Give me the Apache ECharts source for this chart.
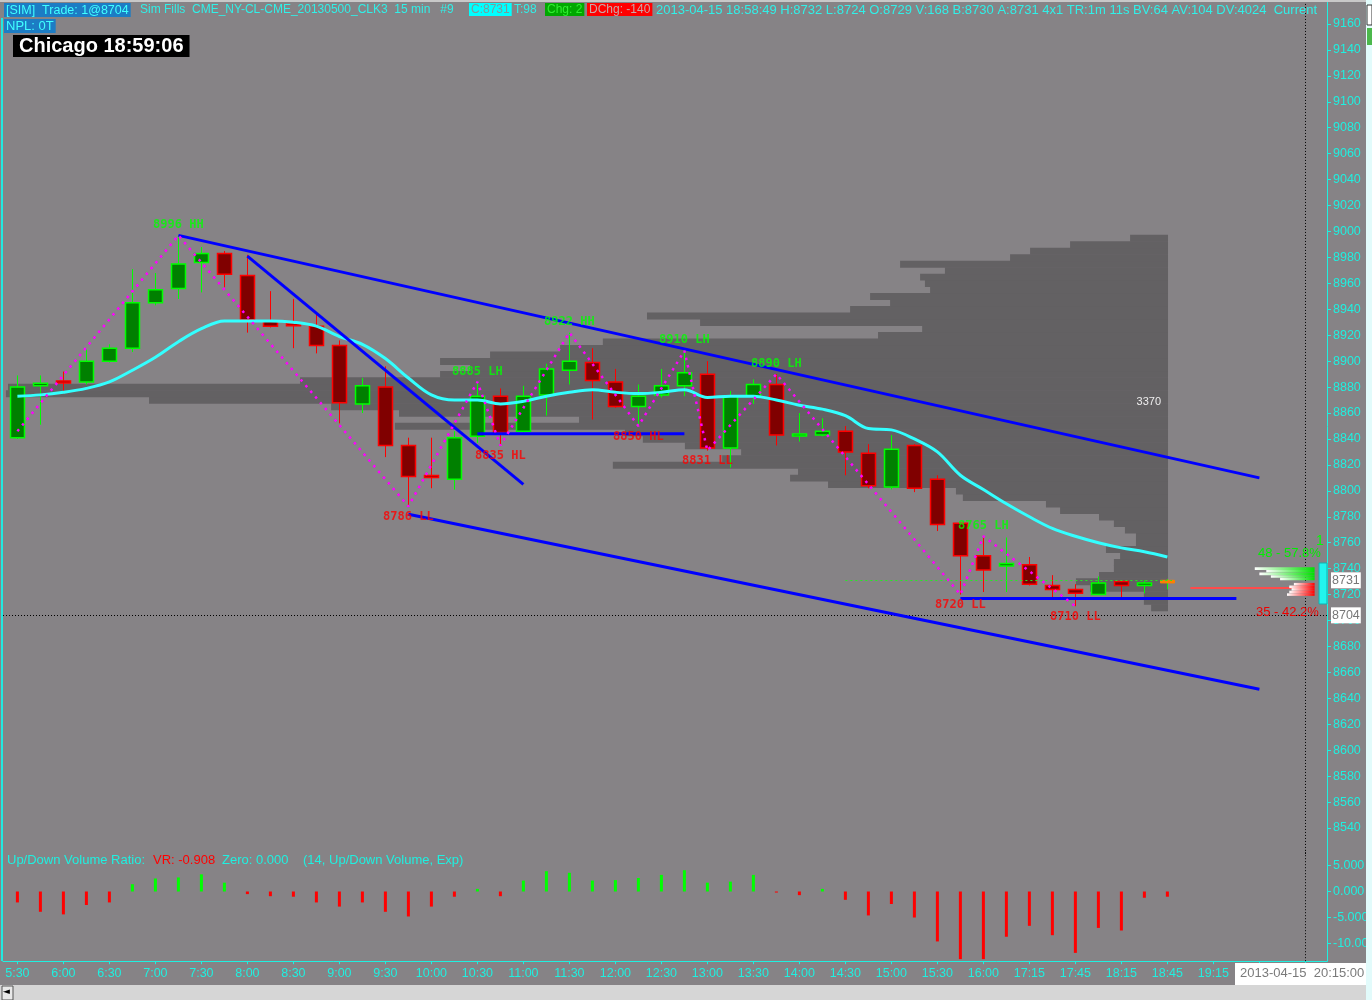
<!DOCTYPE html>
<html>
<head>
  <meta charset="UTF-8">
  <title>CL 15 min</title>
  <script src="https://cdn.jsdelivr.net/npm/echarts@6.0.0/dist/echarts.min.js"></script>
  <style>
    html, body { margin: 0; padding: 0; background: #868386; overflow: hidden; }
    #main { width: 1372px; height: 1000px; }
  </style>
</head>
<body>
<div id="main"></div>
<script type="text/javascript">
// bar times, one per 15 min slot (16:15-17:00 is the break)
var timeLabels = ['5:30','5:45','6:00','6:15','6:30','6:45','7:00','7:15','7:30','7:45','8:00','8:15','8:30','8:45',
  '9:00','9:15','9:30','9:45','10:00','10:15','10:30','10:45','11:00','11:15','11:30','11:45','12:00','12:15',
  '12:30','12:45','13:00','13:15','13:30','13:45','14:00','14:15','14:30','14:45','15:00','15:15','15:30','15:45',
  '16:00','17:00','17:15','17:30','17:45','18:00','18:15','18:30','18:45','19:00','19:15','19:30','19:45','20:00',
  '20:15','20:30'];

// [open, close, low, high]
var candles = [
  [8841,8880,8840,8889],[8881,8883,8851,8889],[8884,8883,8877,8892],[8884,8900,8882,8909],[8900,8910,8899,8913],
  [8910,8945,8907,8971],[8945,8955,8943,8968],[8956,8975,8948,8997],[8976,8983,8953,8988],[8983,8967,8957,8985],
  [8966,8932,8922,8982],[8931,8927,8926,8954],[8928,8927,8910,8948],[8927,8912,8906,8937],[8912,8868,8852,8916],
  [8867,8881,8860,8887],[8880,8835,8826,8896],[8835,8811,8788,8841],[8811,8810,8802,8841],[8809,8841,8801,8846],
  [8842,8873,8837,8884],[8873,8845,8835,8879],[8846,8873,8845,8881],[8874,8894,8858,8898],[8893,8900,8882,8922],
  [8899,8885,8855,8910],[8884,8865,8864,8894],[8865,8873,8850,8882],[8874,8881,8872,8894],[8881,8891,8873,8908],
  [8890,8833,8831,8900],[8833,8873,8818,8877],[8873,8882,8867,8886],[8882,8843,8835,8890],[8842,8843,8838,8860],
  [8843,8846,8842,8856],[8846,8830,8812,8850],[8829,8804,8802,8836],[8803,8832,8801,8843],[8835,8802,8799,8836],
  [8809,8774,8769,8812],[8775,8750,8720,8775],[8750,8739,8722,8765],[8742,8744,8722,8764],[8743,8728,8727,8749],
  [8727,8724,8718,8735],[8724,8721,8711,8728],[8720,8729,8720,8734],[8730,8727,8717,8730],[8727,8729,8721,8731],
  [8729,8731,8724,8732]
];

var emaVals = [8873,8874,8876,8879,8884,8893,8903,8915,8925,8931,8931,8931,8930,8927,8919,8913,8902,8887,8874,8870,
  8870,8867,8869,8873,8876,8878,8876,8875,8876,8878,8872,8873,8873,8870,8866,8863,8858,8848,8847,8840,
  8830,8812,8801,8790,8780,8771,8765,8760,8756,8753,8749];

// Up/Down volume ratio
var udvRatio = [-2.1,-3.9,-4.4,-2.6,-2.1, 1.4,2.5,2.7,3.3,1.7, -0.5,-0.9,-1.0,-2.1,-2.9,
  -2.1,-3.9,-4.8,-2.9,-1.0, 0.5,-0.9,2.1,3.9,3.6, 2.1,2.2,2.6,3.2,4.1,
  1.7,1.9,3.2,-0.2,-0.7, 0.5,-1.6,-4.6,-2.4,-5.0, -9.6,-13.0,-13.0,-8.7,-6.6,
  -8.4,-11.8,-7.0,-7.5,-1.2, -1.0];

// swing points (zigzag)
var swingIdx = [0, 7, 17, 20, 21, 24, 27, 29, 30, 33, 41, 42, 46];
var swingPrice = [8846, 8997, 8788, 8884, 8835, 8922, 8850, 8908, 8831, 8890, 8720, 8765, 8711];
var swingText = ['', '8996 HH', '8786 LL', '8885 LH', '8835 HL', '8922 HH', '8850 HL', '8910 LH', '8831 LL',
  '8890 LH', '8720 LL', '8765 LH', '8710 LL'];

// drawn trend lines [[bar, price], [bar, price]]
var trendLines = [
  [[7, 8997], [54, 8810]],
  [[17, 8782], [54, 8647]],
  [[10, 8981], [22, 8805]],
  [[20, 8844], [29, 8844]],
  [[41, 8717], [53, 8717]]
];

// volume profile, 5 tick rows
var profilePrice = [8710,8715,8720,8725,8730,8735,8740,8745,8750,8755,8760,8765,8770,8775,8780,8785,8790,8795,
  8800,8805,8810,8815,8820,8825,8830,8835,8840,8845,8850,8855,8860,8865,8870,8875,8880,8885,8890,8895,
  8900,8905,8910,8915,8920,8925,8930,8935,8940,8945,8950,8955,8960,8965,8970,8975,8980,8985,8990,8995];
var profileVol = [49,70,70,226,267,200,157,157,139,180,93,93,125,157,200,313,354,595,
  615,986,1096,1073,1610,1293,1238,1401,1523,1575,2242,1708,2230,2427,2955,3370,3364,2517,2111,2024,
  2111,1966,1763,1639,841,713,1357,1511,922,806,864,690,705,719,647,777,458,400,284,110];

// depth of market
var askPrice = [8740, 8738, 8736, 8734, 8732];
var askSize = [26, 21, 24, 19, 15];
var bidPrice = [8728, 8726, 8724, 8722, 8720];
var bidSize = [9, 11, 10, 11, 12];

var priceTicks = [8540,8560,8580,8600,8620,8640,8660,8680,8700,8720,8740,8760,8780,8800,8820,8840,8860,8880,
  8900,8920,8940,8960,8980,9000,9020,9040,9060,9080,9100,9120,9140,9160];
var timeTicks = [0,2,4,6,8,10,12,14,16,18,20,22,24,26,28,30,32,34,36,38,40,42,44,46,48,50,52,54,56];
var timeLabelTicks = [0,2,4,6,8,10,12,14,16,18,20,22,24,26,28,30,32,34,36,38,40,42,44,46,48,50,52];
var ratioTicks = [5, 0, -5, -10];

var CYAN = '#1ff0e0';
var AXFONT = '"Liberation Sans", Arial, sans-serif';
var xMin = -0.626, xMax = 56.94;

var myChart = echarts.init(document.getElementById('main'), null, {renderer: 'canvas'});

function hdr(x, y, text, color, bg, extra) {
  var st = {text: text, fill: color, font: '12.5px ' + AXFONT};
  if (bg) { st.backgroundColor = bg; st.padding = [1, 2, 0, 2]; }
  if (extra) { for (var k in extra) st[k] = extra[k]; }
  return {type: 'text', x: x, y: y, z: 100, silent: true, style: st};
}

var trendSeries = trendLines.map(function (seg) {
  return {
    type: 'line', xAxisIndex: 0, yAxisIndex: 0, z: 6, silent: true,
    symbol: 'none', data: seg,
    lineStyle: {color: '#0000ff', width: 3}
  };
});

var option = {
  backgroundColor: '#868386',
  animation: false,
  grid: [
    {left: 3, right: 45, top: -1.94, height: 855.88, outerBoundsMode: 'none', containLabel: false},
    {left: 3, right: 45, top: 849.9, height: 111.3, outerBoundsMode: 'none', containLabel: false}
  ],
  xAxis: [
    {type: 'value', gridIndex: 0, min: xMin, max: xMax, show: false},
    {type: 'value', gridIndex: 0, min: -461, max: 3378.5, inverse: true, show: false},
    {
      type: 'value', gridIndex: 1, min: xMin, max: xMax, position: 'bottom',
      splitLine: {show: false},
      axisLine: {show: true, onZero: false, lineStyle: {color: CYAN, width: 1}},
      axisTick: {show: true, customValues: timeTicks, length: 3, lineStyle: {color: CYAN}},
      axisLabel: {
        show: true, customValues: timeLabelTicks, color: CYAN, fontFamily: AXFONT, fontSize: 12.5, margin: 6,
        formatter: function (v) { return timeLabels[Math.round(v)]; }
      }
    }
  ],
  yAxis: [
    {
      type: 'value', gridIndex: 0, min: 8520, max: 9180, position: 'right',
      splitLine: {show: false},
      axisLine: {show: true, onZero: false, lineStyle: {color: CYAN, width: 1}},
      axisTick: {show: true, customValues: priceTicks, length: 4, lineStyle: {color: CYAN}},
      axisLabel: {
        show: true, customValues: priceTicks, color: CYAN, fontFamily: AXFONT, fontSize: 12.5, margin: 6,
        formatter: function (v) { return String(Math.round(v)); }
      }
    },
    {
      type: 'value', gridIndex: 1, min: -13.4, max: 8, position: 'right',
      splitLine: {show: false},
      axisLine: {show: true, onZero: false, lineStyle: {color: CYAN, width: 1}},
      axisTick: {show: true, customValues: ratioTicks, length: 4, lineStyle: {color: CYAN}},
      axisLabel: {
        show: true, customValues: ratioTicks, color: CYAN, fontFamily: AXFONT, fontSize: 12.5, margin: 6,
        formatter: function (v) { return v === -10 ? '-10.00' : v.toFixed(3); }
      }
    }
  ],
  series: [
    // volume profile
    {
      type: 'custom', xAxisIndex: 1, yAxisIndex: 0, z: 1, silent: true,
      data: profilePrice.map(function (p, i) { return [profileVol[i], p]; }),
      renderItem: function (params, api) {
        var v = api.value(0), p = api.value(1);
        var a = api.coord([v, p + 2.5]);
        var b = api.coord([0, p - 2.5]);
        var kids = [{type: 'rect', shape: {x: a[0], y: a[1], width: b[0] - a[0], height: b[1] - a[1] + 0.5},
          style: {fill: '#636163'}}];
        if (v === Math.max.apply(null, profileVol)) {
          kids.push({type: 'text', x: b[0] - 7, y: b[1] + 5,
            style: {text: String(v), fill: '#eeeeee', font: '11px ' + AXFONT, align: 'right', verticalAlign: 'middle'}});
        }
        return {type: 'group', children: kids};
      }
    },
    // candles
    {
      type: 'custom', xAxisIndex: 0, yAxisIndex: 0, z: 3, silent: true,
      data: candles.map(function (c, i) { return [i, c[0], c[1], c[2], c[3]]; }),
      encode: {x: 0, y: [1, 2, 3, 4]},
      renderItem: function (params, api) {
        var i = api.value(0), o = api.value(1), c = api.value(2), l = api.value(3), h = api.value(4);
        var pO = api.coord([i, o]), pC = api.coord([i, c]), pL = api.coord([i, l]), pH = api.coord([i, h]);
        var up = c >= o;
        var last = params.dataIndex === candles.length - 1;
        var edge = up ? '#00ff00' : '#ff0000';
        var fill = up ? '#008000' : '#800000';
        var x = Math.round(pO[0]) + 0.5;
        var top = Math.min(pO[1], pC[1]), bot = Math.max(pO[1], pC[1]);
        var w = 14;
        if (bot - top < 2) { top -= 1; bot = top + 2; }
        return {type: 'group', children: [
          {type: 'line', shape: {x1: x, y1: pH[1], x2: x, y2: pL[1]}, style: {stroke: edge, lineWidth: 1}},
          {type: 'rect', shape: {x: x - w / 2, y: top, width: w, height: bot - top},
            style: last ? {fill: '#ff8000', stroke: '#ff8000', lineWidth: 1} : {fill: fill, stroke: edge, lineWidth: 1.5}}
        ]};
      }
    },
    // EMA
    {
      type: 'line', xAxisIndex: 0, yAxisIndex: 0, z: 4, silent: true,
      symbol: 'none', smooth: 0.35,
      data: emaVals.map(function (v, i) { return [i, v]; }),
      lineStyle: {color: '#33ffff', width: 3},
      markLine: {
        silent: true, symbol: 'none', animation: false,
        data: [
          [{coord: [36, 8731], lineStyle: {color: '#22ee22', type: [2, 3], width: 1}, label: {show: false}},
            {coord: [50.2, 8731]}],
          [{coord: [51, 8725], lineStyle: {color: '#ff4b4b', type: 'solid', width: 2}, label: {show: false}},
            {coord: [56.1, 8725]}],
          {yAxis: 8704, lineStyle: {color: '#000000', type: [1, 2], width: 1},
            label: {show: true, position: 'end', formatter: '8704', color: '#777777', backgroundColor: '#ffffff',
              padding: [2, 1, 1, 1], distance: 4, fontFamily: AXFONT, fontSize: 12.5}},
          {yAxis: 8731, lineStyle: {color: 'rgba(0,0,0,0)', width: 1},
            label: {show: true, position: 'end', formatter: '8731', color: '#777777', backgroundColor: '#ffffff',
              padding: [2, 1, 1, 1], distance: 4, fontFamily: AXFONT, fontSize: 12.5}},
          {xAxis: 56, lineStyle: {color: '#000000', type: [1, 2], width: 1}, label: {show: false}}
        ]
      }
    }
  ].concat(trendSeries).concat([
    // zigzag
    {
      type: 'line', xAxisIndex: 0, yAxisIndex: 0, z: 7, silent: true, symbol: 'none',
      data: swingIdx.map(function (v, i) { return [v, swingPrice[i]]; }),
      lineStyle: {color: '#ff00ff', width: 2.5, type: [2.5, 5]}
    },
    // swing labels
    {
      type: 'scatter', xAxisIndex: 0, yAxisIndex: 0, z: 8, silent: true, symbolSize: 1,
      itemStyle: {color: 'rgba(0,0,0,0)'},
      data: swingIdx.slice(1).map(function (v, k) {
        var t = swingText[k + 1];
        var hi = t.charAt(t.length - 1) === 'H';
        return {
          value: [v, swingPrice[k + 1]],
          label: {show: true, formatter: t, position: hi ? 'top' : 'bottom', distance: 4,
            color: hi ? '#00ff00' : '#ff0000', fontFamily: '"DejaVu Sans Mono", monospace',
            fontWeight: 'bold', fontSize: 12}
        };
      })
    },
    // depth of market
    {
      type: 'custom', xAxisIndex: 0, yAxisIndex: 0, z: 5, silent: true,
      data: askPrice.map(function (p, i) { return [p, askSize[i], 1]; })
        .concat(bidPrice.map(function (p, i) { return [p, bidSize[i], 0]; })),
      renderItem: function (params, api) {
        var p = api.value(0), s = api.value(1), ask = api.value(2) === 1;
        var a = api.coord([56.4 - s * 0.1, p + 1]);
        var b = api.coord([56.4, p - 1]);
        return {type: 'rect', shape: {x: a[0], y: a[1], width: b[0] - a[0], height: b[1] - a[1]},
          style: {fill: new echarts.graphic.LinearGradient(0, 0, 1, 0, [
            {offset: 0, color: '#ffffff'}, {offset: 1, color: ask ? '#00e000' : '#ff0000'}])}};
      }
    },
    // up/down volume ratio
    {
      type: 'bar', xAxisIndex: 2, yAxisIndex: 1, barWidth: 3, silent: true,
      data: udvRatio.map(function (v, i) {
        return {value: [i, v], itemStyle: {color: v >= 0 ? '#00ff00' : '#ff0000'}};
      }),
      markLine: {
        silent: true, symbol: 'none',
        data: [{xAxis: 56, lineStyle: {color: '#000000', type: [1, 2], width: 1}, label: {show: false}}]
      }
    }
  ]),
  graphic: [
    {type: 'rect', z: 90, silent: true, shape: {x: 0, y: 0, width: 1372, height: 2}, style: {fill: '#c8c8c8'}},
    {type: 'rect', z: 90, silent: true, shape: {x: 1, y: 18, width: 2, height: 943}, style: {fill: '#22e8e0'}},
    {type: 'rect', z: 120, silent: true, shape: {x: 1366, y: 0, width: 6, height: 1000}, style: {fill: '#e2fbfb'}},
    {type: 'rect', z: 121, silent: true, shape: {x: 1367, y: 5, width: 5, height: 20}, style: {fill: '#ffffff', stroke: '#333', lineWidth: 1}},
    {type: 'rect', z: 121, silent: true, shape: {x: 1367, y: 28, width: 5, height: 17}, style: {fill: '#4cb84c'}},
    {type: 'rect', z: 110, silent: true, shape: {x: 0, y: 985, width: 1372, height: 15}, style: {fill: '#d6d6d6'}},
    {type: 'rect', z: 111, silent: true, shape: {x: 2, y: 986, width: 11, height: 14}, style: {fill: '#e8e8e8', stroke: '#555', lineWidth: 1}},
    {type: 'text', z: 112, silent: true, x: 3, y: 987, style: {text: '◄', fill: '#000', font: '9px "DejaVu Sans"'}},
    {type: 'rect', z: 110, silent: true, shape: {x: 1235, y: 963, width: 137, height: 22}, style: {fill: '#ffffff'}},
    {type: 'text', z: 111, silent: true, x: 1240, y: 967, style: {text: '2013-04-15  20:15:00', fill: '#7a7a7a', font: '13px ' + AXFONT}},
    {type: 'rect', z: 105, silent: true, shape: {x: 1319, y: 563, width: 8, height: 41}, style: {fill: '#22f4ee', stroke: '#10b0b0', lineWidth: 1}},
    hdr(1316, 534, '1', '#00ff00', null, {font: '14px ' + AXFONT}),
    hdr(1258, 547, '48 - 57.8%', '#00ee00', null, {font: '13px ' + AXFONT}),
    hdr(1256, 606, '35 - 42.2%', '#ee0000', null, {font: '13px ' + AXFONT}),
    // header
    hdr(4, 3, '[SIM]  Trade: 1@8704', '#40ffff', '#1c7cc4'),
    hdr(140, 4, 'Sim Fills  CME_NY-CL-CME_20130500_CLK3  15 min   #9', '#30f0e8', null, {font: '12px ' + AXFONT}),
    hdr(469, 3, 'C:8731', '#7f9999', '#00ffff', {font: '12px ' + AXFONT}),
    hdr(514, 4, 'T:98', '#30f0e8', null, {font: '12px ' + AXFONT}),
    hdr(545, 3, 'Chg: 2', '#30ee30', '#00a800', {font: '12px ' + AXFONT}),
    hdr(587, 3, 'DChg: -140', '#c8a8a8', '#ff0000', {font: '12px ' + AXFONT}),
    hdr(656, 4, '2013-04-15 18:58:49 H:8732 L:8724 O:8729 V:168 B:8730 A:8731 4x1 TR:1m 11s BV:64 AV:104 DV:4024  Current P',
      '#30f0e8', null, {font: '13px ' + AXFONT, width: 671, overflow: 'truncate', ellipsis: ''}),
    hdr(4, 19, 'NPL: 0T', '#40ffff', '#1c7cc4', {font: '13px ' + AXFONT}),
    {type: 'text', z: 100, silent: true, x: 13, y: 35,
      style: {text: 'Chicago 18:59:06', fill: '#ffffff', font: 'bold 20px ' + AXFONT, backgroundColor: '#000000', padding: [1, 6, 1, 6]}},
    // indicator title
    hdr(7, 854, 'Up/Down Volume Ratio:', CYAN, null, {font: '13px ' + AXFONT}),
    hdr(153, 854, 'VR: -0.908', '#ff0000', null, {font: '13px ' + AXFONT}),
    hdr(222, 854, 'Zero: 0.000', CYAN, null, {font: '13px ' + AXFONT}),
    hdr(303, 854, '(14, Up/Down Volume, Exp)', CYAN, null, {font: '13px ' + AXFONT})
  ]
};

myChart.setOption(option);
</script>
</body>
</html>
